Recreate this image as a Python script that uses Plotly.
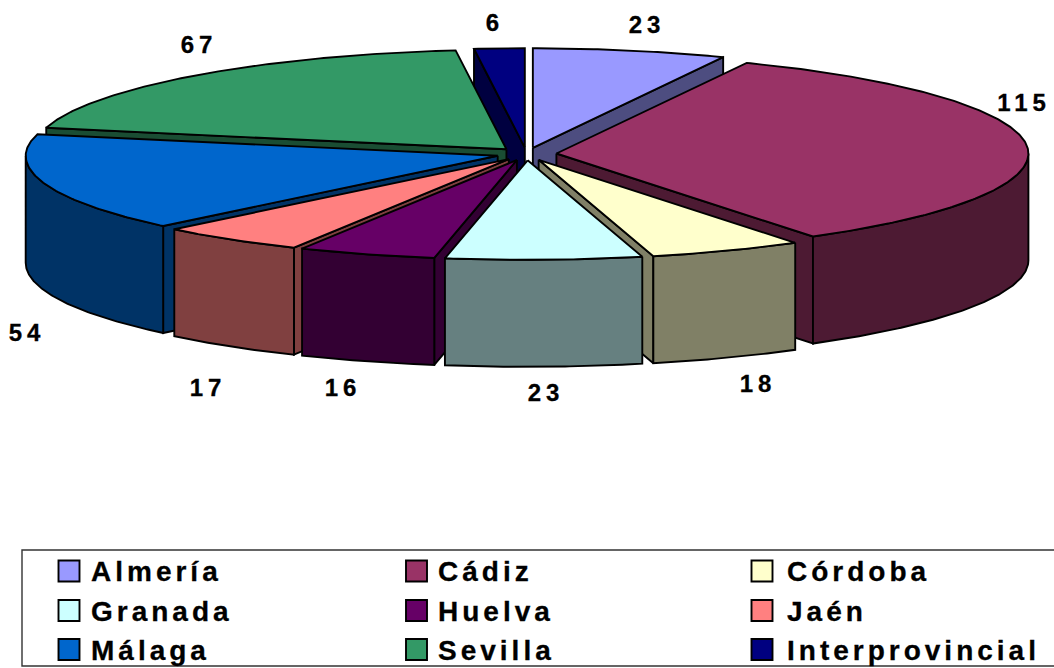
import math
import plotly.graph_objects as go

# ---- data ----
provinces = ["Almería", "Cádiz", "Córdoba", "Granada", "Huelva", "Jaén", "Málaga", "Sevilla", "Interprovincial"]
values = [23, 115, 18, 23, 16, 17, 54, 67, 6]
top_colors = ["#9999FF", "#993366", "#FFFFCC", "#CCFFFF", "#660066", "#FF8080", "#0066CC", "#339966", "#000080"]
side_colors = ["#4D4D80", "#4D1A33", "#808066", "#668080", "#330033", "#804040", "#003366", "#1A4D33", "#000040"]

# ---- style / layout ----
CX, CY = 526.5, 154.0
RX, RY = 472.0, 99.5
DEPTH = 107.0
EXPLODE = 30.0
BACK_NARROW = 0.03
FRONT_RIGHT_NARROW = 0.02
LINE = 1.9
draw_order = [0, 8, 7, 1, 6, 2, 5, 4, 3]
label_xy = [(647, 27), (1024, 105), (758, 386), (546, 395), (343, 390), (208, 390), (27, 335), (199, 47), (495, 25)]
swatch_x = [69, 416.5, 762]
text_x = [91, 438, 787]
swatch_y = [571, 610.5, 649.5]
text_y = [574, 613.5, 652.5]

total = sum(values)
starts = []
acc = 0
for v in values:
    starts.append(acc / total * 360)
    acc += v


def pt(cx, cy, deg):
    a = math.radians(deg)
    c = math.cos(a)
    s = math.sin(a)
    f = 1.0
    if c > 0:
        f = 1 - BACK_NARROW * c * c
    elif s > 0:
        f = 1 - FRONT_RIGHT_NARROW * c * c
    return cx + RX * f * s, cy - RY * c


def poly(fig, pts, fill):
    xs = [p[0] for p in pts] + [pts[0][0]]
    ys = [p[1] for p in pts] + [pts[0][1]]
    fig.add_trace(go.Scatter(x=xs, y=ys, mode="lines", fill="toself", fillcolor=fill,
                             line=dict(color="black", width=LINE), hoverinfo="skip", showlegend=False))


fig = go.Figure()

for i in draw_order:
    a0 = starts[i]
    a1 = a0 + values[i] / total * 360
    mid = math.radians((a0 + a1) / 2)
    cx = CX + EXPLODE * math.sin(mid)
    cy = CY - EXPLODE * math.cos(mid) * RY / RX
    steps = max(2, int((a1 - a0) * 2))
    arc = [pt(cx, cy, a0 + (a1 - a0) * k / steps) for k in range(steps + 1)]
    down = lambda p: (p[0], p[1] + DEPTH)
    # radial walls, only those that face the viewer
    if -math.cos(math.radians(a0 - 90)) > 0:
        poly(fig, [(cx, cy), arc[0], down(arc[0]), (cx, cy + DEPTH)], side_colors[i])
    if -math.cos(math.radians(a1 + 90)) > 0:
        poly(fig, [(cx, cy), arc[-1], down(arc[-1]), (cx, cy + DEPTH)], side_colors[i])
    # outer cylinder wall (front half only)
    lo, hi = max(a0, 90), min(a1, 270)
    if hi > lo:
        n = max(2, int((hi - lo) * 2))
        rim = [pt(cx, cy, lo + (hi - lo) * k / n) for k in range(n + 1)]
        poly(fig, rim + [down(p) for p in reversed(rim)], side_colors[i])
    # top face
    poly(fig, [(cx, cy)] + arc, top_colors[i])

# data labels
fig.add_trace(go.Scatter(
    x=[p[0] for p in label_xy], y=[p[1] for p in label_xy],
    mode="text", text=[str(v) for v in values], textposition="middle center",
    textfont=dict(family="Liberation Sans", size=24, color="black", weight="bold"),
    hoverinfo="skip", showlegend=False))

# legend
sx, sy, tx, ty = [], [], [], []
for k in range(len(provinces)):
    sx.append(swatch_x[k % 3])
    sy.append(swatch_y[k // 3])
    tx.append(text_x[k % 3])
    ty.append(text_y[k // 3])
fig.add_trace(go.Scatter(
    x=sx, y=sy, mode="markers",
    marker=dict(symbol="square", size=21, color=top_colors, line=dict(color="black", width=1.9)),
    hoverinfo="skip", showlegend=False))
fig.add_trace(go.Scatter(
    x=tx, y=ty, mode="text", text=provinces, textposition="middle right",
    textfont=dict(family="Liberation Sans", size=28, color="black", weight="bold"),
    hoverinfo="skip", showlegend=False))

fig.add_shape(type="rect", x0=22, x1=1060, y0=550, y1=666, xref="x", yref="y",
              line=dict(color="#333333", width=1.4), fillcolor="rgba(0,0,0,0)", layer="below")

fig.update_layout(
    width=1054, height=668, margin=dict(l=0, r=0, t=0, b=0),
    paper_bgcolor="white", plot_bgcolor="white", showlegend=False,
    xaxis=dict(range=[0, 1054], visible=False, fixedrange=True),
    yaxis=dict(range=[668, 0], visible=False, fixedrange=True),
)

post = """
document.body.style.margin = '0';
document.body.style.overflow = 'hidden';
document.querySelectorAll('.textpoint text').forEach(function (t) {
  t.style.letterSpacing = parseFloat(t.style.fontSize) >= 26 ? '4px' : '5px';
  t.style.stroke = 'black';
  t.style.strokeWidth = '0.3px';
});
"""
fig.write_html("out.html", config={"displayModeBar": False}, post_script=post)
